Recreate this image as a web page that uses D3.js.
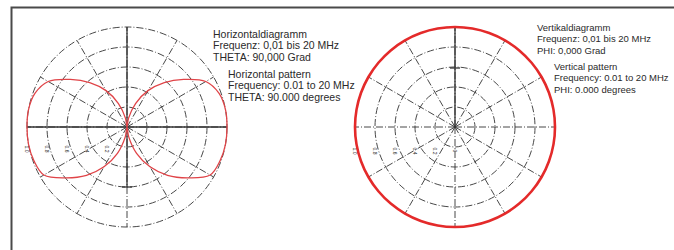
<!DOCTYPE html>
<html>
<head>
<meta charset="utf-8">
<script src="https://cdn.jsdelivr.net/npm/d3@7"></script>
<style>
body { margin: 0; background: #fff; }
text { font-family: "Liberation Sans", Arial, sans-serif; fill: #2a2a2a; }
</style>
</head>
<body>
<div id="chart"></div>
<script>
// pattern angles, degrees counter-clockwise from the right-hand axis
const angles = [0, 10, 20, 30, 40, 50, 60, 70, 80, 90, 100, 110, 120, 130, 140, 150, 160, 170,
    180, 190, 200, 210, 220, 230, 240, 250, 260, 270, 280, 290, 300, 310, 320, 330, 340, 350];

// horizontal pattern (relative field)
const horizontalPattern = [1.00, 1.00, 0.98, 0.91, 0.74, 0.58, 0.42, 0.25, 0.09, 0.00, 0.09, 0.25, 0.42, 0.58, 0.74, 0.91, 0.98, 1.00,
    1.00, 1.00, 0.99, 0.96, 0.79, 0.63, 0.46, 0.28, 0.10, 0.00, 0.10, 0.28, 0.46, 0.63, 0.79, 0.96, 0.99, 1.00];

// vertical pattern (a full circle)
const verticalPattern = [1.00, 1.00, 1.00, 1.00, 1.00, 1.00, 1.00, 1.00, 1.00, 1.00, 1.00, 1.00, 1.00, 1.00, 1.00, 1.00, 1.00, 1.00,
    1.00, 1.00, 1.00, 1.00, 1.00, 1.00, 1.00, 1.00, 1.00, 1.00, 1.00, 1.00, 1.00, 1.00, 1.00, 1.00, 1.00, 1.00];

const ringValues = [0.2, 0.4, 0.6, 0.8, 1.0];
const spokeAngles = [0, 30, 60, 90, 120, 150, 180, 210, 240, 270, 300, 330];
const leftTickLabels = ["1.0", "0.8", "0.6", "0.4", "0.2"];
const rightTickLabels = ["1.0", "0.8", "0.6", "0.4", "0.2", "0"];

const leftTitles = ["Horizontaldiagramm", "Frequenz: 0,01 bis 20 MHz", "THETA: 90,000 Grad"];
const leftTitlesEn = ["Horizontal pattern", "Frequency: 0.01 to 20 MHz", "THETA: 90.000 degrees"];
const rightTitles = ["Vertikaldiagramm", "Frequenz: 0,01 bis 20 MHz", "PHI: 0,000 Grad"];
const rightTitlesEn = ["Vertical pattern", "Frequency: 0.01 to 20 MHz", "PHI: 0.000 degrees"];

const width = 674;
const height = 250;
const radius = 100;
const dash = "7,2,1,2";

const svg = d3.select("#chart")
    .append("svg")
    .attr("width", width)
    .attr("height", height);

// frame
svg.append("path")
    .attr("d", "M11.5,250V7.5H674")
    .attr("fill", "none")
    .attr("stroke", "#4a4a4a")
    .attr("stroke-width", 2);

const r = d3.scaleLinear().domain([0, 1]).range([0, radius]);

function toRad(a) {
    // screen angle for lineRadial: 0 = up, clockwise
    return (90 - a) * Math.PI / 180;
}

function drawPolar(cx, cy, values, opts) {
    const g = svg.append("g").attr("transform", `translate(${cx},${cy})`);

    g.append("g")
        .selectAll("circle")
        .data(ringValues)
        .join("circle")
        .attr("r", d => r(d))
        .attr("fill", "none")
        .attr("stroke", "#333")
        .attr("stroke-width", 0.9)
        .attr("stroke-dasharray", dash);

    g.append("g")
        .selectAll("line")
        .data(spokeAngles)
        .join("line")
        .attr("x2", d => r(1) * Math.cos(d * Math.PI / 180))
        .attr("y2", d => -r(1) * Math.sin(d * Math.PI / 180))
        .attr("stroke", "#333")
        .attr("stroke-width", 0.9)
        .attr("stroke-dasharray", dash);

    // solid axes
    opts.solid.forEach(s => {
        g.append("line")
            .attr("x1", s[0]).attr("y1", s[1]).attr("x2", s[2]).attr("y2", s[3])
            .attr("stroke", "#333")
            .attr("stroke-width", 1.3);
    });

    // tick labels along the left axis
    g.append("g")
        .selectAll("text")
        .data(opts.labels)
        .join("text")
        .attr("transform", (d, i) => `translate(${-r(ringValues[ringValues.length - 1 - i] || 0) - 2},${opts.labelY}) rotate(90)`)
        .attr("text-anchor", "middle")
        .attr("font-size", "5px")
        .text(d => d);

    const line = d3.lineRadial()
        .angle((d, i) => toRad(angles[i]))
        .radius(d => r(d))
        .curve(d3.curveCatmullRomClosed);

    g.append("path")
        .attr("d", line(values))
        .attr("fill", "none")
        .attr("stroke", opts.color)
        .attr("stroke-width", opts.lineWidth);
}

function drawText(x, y, lines, size) {
    svg.append("g")
        .selectAll("text")
        .data(lines)
        .join("text")
        .attr("x", x)
        .attr("y", (d, i) => y + i * 11.3)
        .attr("font-size", size + "px")
        .text(d => d);
}

drawPolar(127, 127, horizontalPattern, {
    color: "#e04448",
    lineWidth: 1.3,
    labels: leftTickLabels,
    labelY: 22,
    solid: [[-100, 0, 100, 0], [0, -100, 0, 60], [-5, 60, 5, 60]]
});

drawPolar(455, 127, verticalPattern, {
    color: "#e42a2a",
    lineWidth: 2.6,
    labels: rightTickLabels,
    labelY: 24,
    solid: [[0, -100, 0, 0], [-5, -59, 5, -59]]
});

drawText(213, 38, leftTitles, 10.5);
drawText(228, 78, leftTitlesEn, 10.5);
drawText(537, 31, rightTitles, 9.5);
drawText(554, 70, rightTitlesEn, 9.5);
</script>
</body>
</html>
